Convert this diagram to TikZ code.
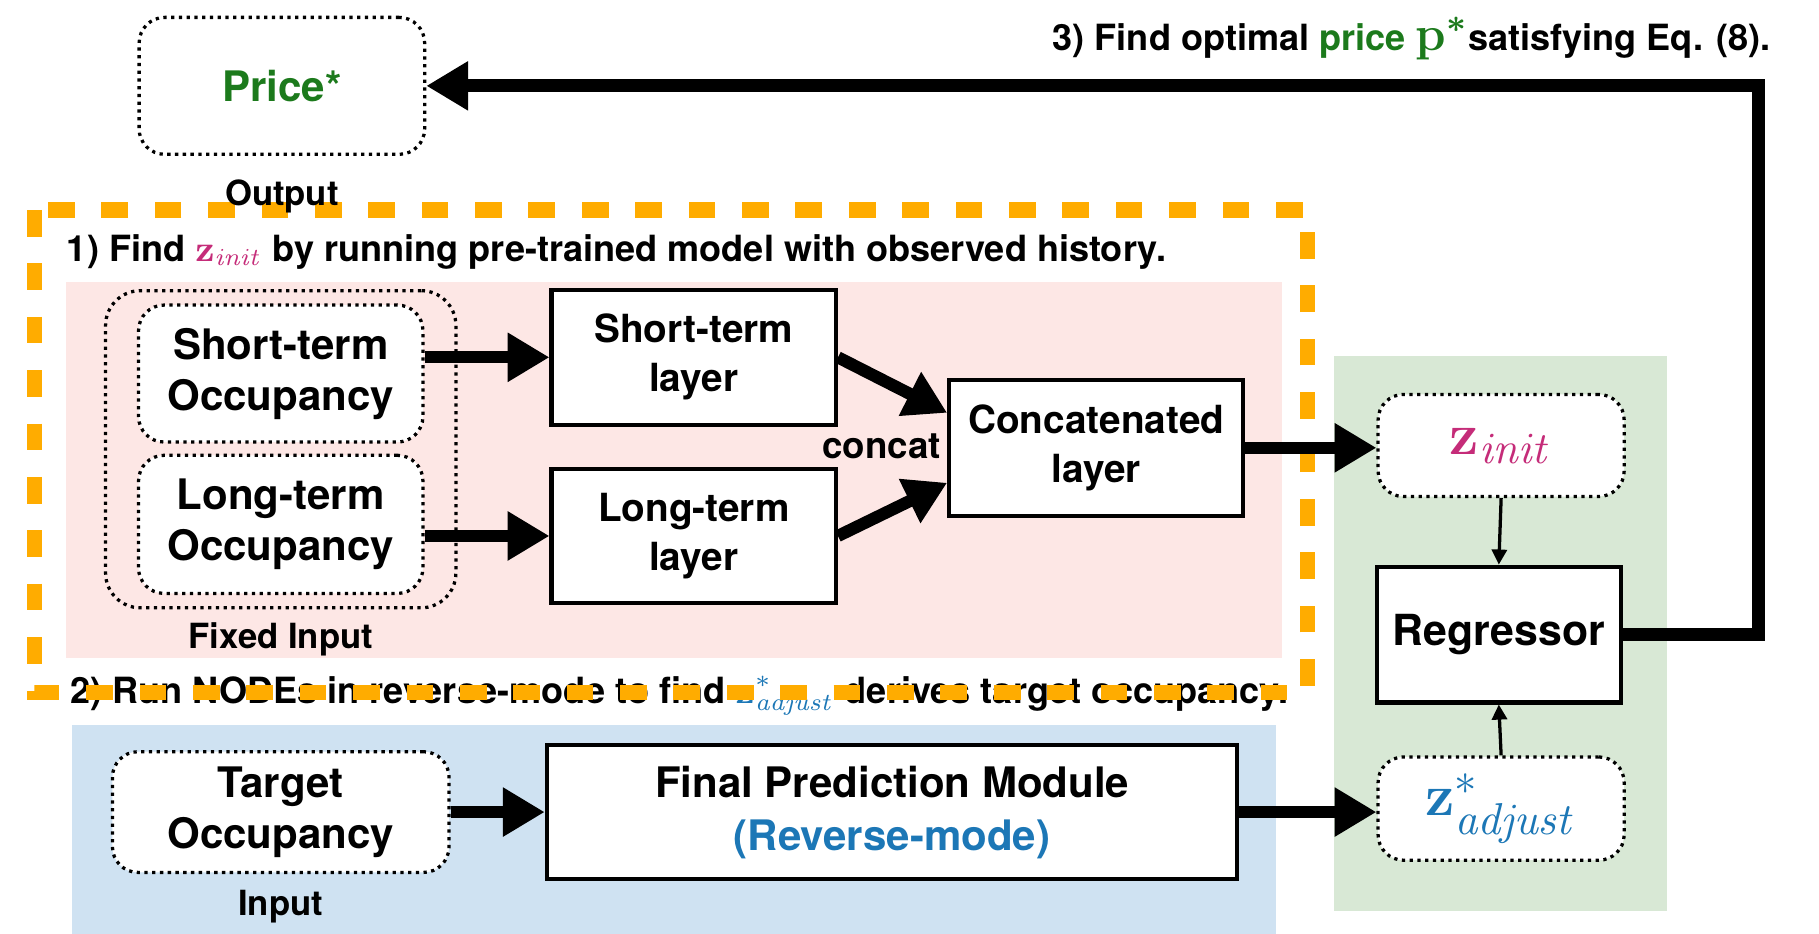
\documentclass[tikz,border=0pt]{standalone}
\usepackage{amsmath}
\usepackage[no-math]{fontspec}
\setmainfont{TeX Gyre Heros}
\usetikzlibrary{positioning, calc, fit, arrows.meta}

\definecolor{pinkbg}{RGB}{253,231,229}
\definecolor{greenbg}{RGB}{216,232,213}
\definecolor{bluebg}{RGB}{207,226,242}
\definecolor{dashorange}{RGB}{255,172,0}
\definecolor{zinitcol}{RGB}{197,44,121}
\definecolor{zadjcol}{RGB}{28,119,182}
\definecolor{pricecol}{RGB}{28,122,28}

\newcommand{\zinit}{\mathbf{z}_{\mathit{init}}}
\newcommand{\zadj}{\mathbf{z}^{*}_{\mathit{adjust}}}

\begin{document}
\begin{tikzpicture}[x=0.01cm, y=-0.01cm,
        every node/.style={font=\fontsize{10.3}{12.5}\selectfont\bfseries, align=center},
        dotbox/.style={draw, line width=0.8pt, dash pattern=on 0.8pt off 1.1pt,
            rounded corners=0.22cm, fill=white},
        layerbox/.style={draw, line width=1pt, fill=white,
            font=\fontsize{9.5}{12}\selectfont\bfseries},
        caption/.style={font=\fontsize{8.5}{10}\selectfont\bfseries, inner sep=0pt},
        steptext/.style={font=\fontsize{8.85}{11}\selectfont\bfseries, inner sep=0pt},
        bigarrow/.style={line width=3pt, -{Triangle[length=0.36cm,width=0.4cm]}},
        thinarrow/.style={line width=0.8pt, -{Triangle[length=0.13cm,width=0.13cm]}}]
    \useasboundingbox (0,0) rectangle (1568,805);

    % shaded stages
    \fill[pinkbg] (57,243) rectangle (1105,567);
    \fill[greenbg] (1150,307) rectangle (1437,785);
    \fill[bluebg] (62,625) rectangle (1100,805);

    % step captions
    \node[steptext, anchor=west] (step1) at (57,217)
        {1) Find $\color{zinitcol}\zinit$ by running pre-trained model with observed history.};
    \node[steptext, anchor=west] (step2) at (60,600)
        {2) Run NODEs in reverse-mode to find $\color{zadjcol}\zadj$ derives target occupancy.};
    \node[steptext, anchor=east] (step3) at (1527,33)
        {3) Find optimal {\color{pricecol}price {\fontsize{11.5}{12}\selectfont\boldmath$\mathbf{p}^{*}$}}satisfying Eq. (8).};

    % stage 1 frame
    \draw[dashorange, line width=3.7pt, dash pattern=on 0.23cm off 0.23cm]
        (30,181) rectangle (1127,597);

    % output
    \node[dotbox, minimum width=2.46cm, minimum height=1.18cm] (price) at (243,74)
        {\color{pricecol}Price*};
    \node[caption, below=0.2cm of price] (outlbl) {Output};

    % fixed input
    \node[dotbox, minimum width=2.45cm, minimum height=1.18cm] (stocc) at (242,322)
        {Short-term\\Occupancy};
    \node[dotbox, minimum width=2.45cm, minimum height=1.19cm] (ltocc) at (242,452)
        {Long-term\\Occupancy};
    \node[draw, line width=0.8pt, dash pattern=on 0.8pt off 1.1pt, rounded corners=0.3cm,
        fit=(stocc)(ltocc), inner xsep=0.27cm, inner ysep=0.11cm] (fixed) {};
    \node[caption, below=0.11cm of fixed] (fixlbl) {Fixed Input};

    % pre-trained layers
    \node[layerbox, minimum width=2.45cm, minimum height=1.16cm] (stlayer) at (598,308)
        {Short-term\\layer};
    \node[layerbox, minimum width=2.45cm, minimum height=1.16cm] (ltlayer) at (598,462)
        {Long-term\\layer};
    \node[layerbox, minimum width=2.45cm, minimum height=1.17cm, text width=2.3cm] (concat) at (945,386)
        {Concatenated\\layer};
    \node[font=\fontsize{9}{11}\selectfont\bfseries, inner sep=0pt] (concatlbl) at (760,385) {concat};

    % latent states and regressor
    \node[dotbox, minimum width=2.12cm, minimum height=0.88cm,
        font=\fontsize{15}{18}\selectfont] (zinit) at (1294,384) {$\color{zinitcol}\zinit$};
    \node[layerbox, minimum width=2.1cm, minimum height=1.17cm,
        font=\fontsize{10.5}{12}\selectfont\bfseries] (reg) at (1292,547) {Regressor};
    \node[dotbox, minimum width=2.12cm, minimum height=0.89cm,
        font=\fontsize{15}{18}\selectfont] (zadj) at (1294,697) {$\color{zadjcol}\zadj$};

    % target input
    \node[dotbox, minimum width=2.9cm, minimum height=1.04cm] (target) at (242,700)
        {Target\\Occupancy};
    \node[caption, below=0.13cm of target] (inlbl) {Input};
    \node[layerbox, minimum width=5.95cm, minimum height=1.16cm,
        font=\fontsize{10.3}{13}\selectfont\bfseries] (fpm) at (769,700)
        {Final Prediction Module\\{\color{zadjcol}(Reverse-mode)}};

    % connectors
    \draw[bigarrow] (stocc.east |- stlayer.west) -- (stlayer.west);
    \draw[bigarrow] (ltocc.east |- ltlayer.west) -- (ltlayer.west);
    \draw[bigarrow] (stlayer.east) -- ($(concat.north west)!0.25!(concat.south west)$);
    \draw[bigarrow] (ltlayer.east) -- ($(concat.north west)!0.75!(concat.south west)$);
    \draw[bigarrow] (concat.east) -- (concat.east -| zinit.west);
    \draw[bigarrow] (target.east) -- (fpm.west);
    \draw[bigarrow] (fpm.east) -- (fpm.east -| zadj.west);
    \draw[thinarrow] (zinit.south) -- (reg.north);
    \draw[thinarrow] (zadj.north) -- (reg.south);

    % feedback to the price
    \coordinate (turn) at (1516,0);
    \draw[bigarrow, line width=3.2pt] (reg.east) -| (turn |- price.east) -- (price.east);
\end{tikzpicture}
\end{document}
